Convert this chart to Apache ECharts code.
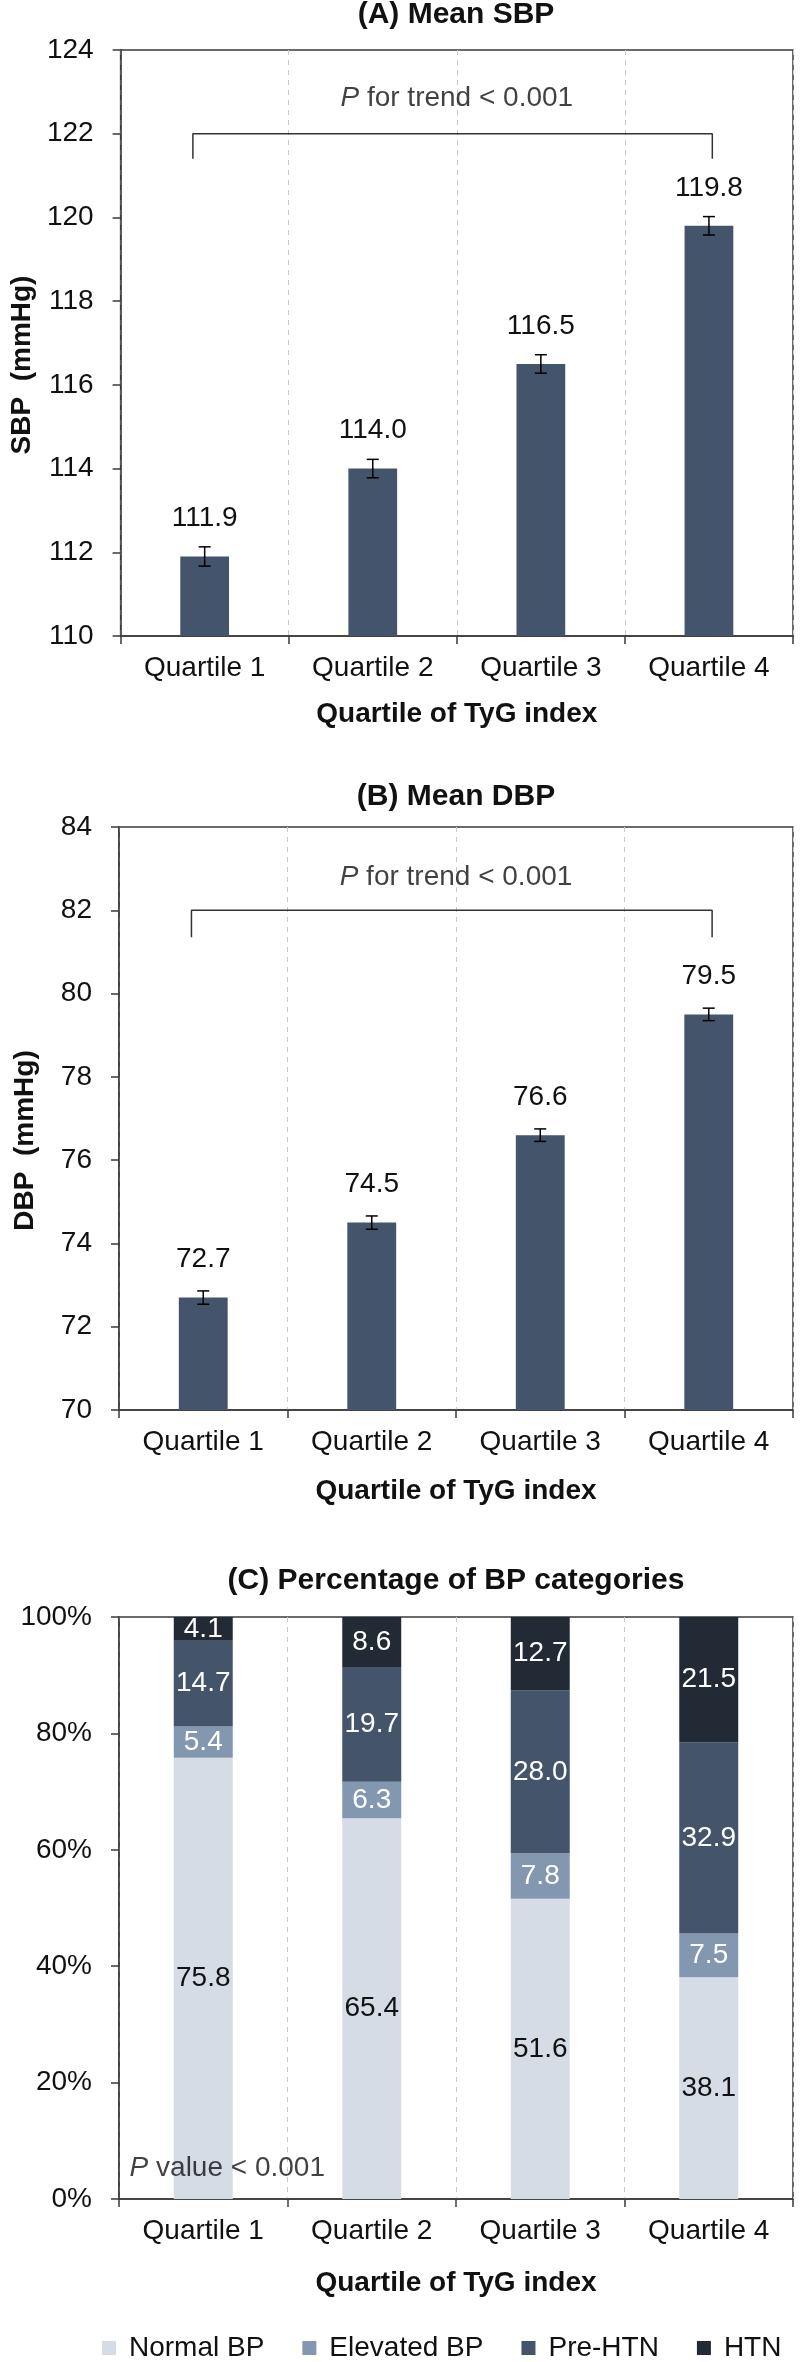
<!DOCTYPE html>
<html><head><meta charset="utf-8">
<script src="https://cdn.jsdelivr.net/npm/echarts@6/dist/echarts.min.js"></script>
<style>html,body{margin:0;padding:0;background:#fff}#c{width:800px;height:2362px}</style>
</head><body><div id="c"></div>
<script>
// ---------- data ----------
const categories = ['Quartile 1', 'Quartile 2', 'Quartile 3', 'Quartile 4'];
const sbpMean = [111.9, 114.0, 116.5, 119.8];
const sbpErr = [0.23, 0.22, 0.22, 0.22];
const dbpMean = [72.7, 74.5, 76.6, 79.5];
const dbpErr = [0.16, 0.16, 0.15, 0.15];
const normalBP = [75.8, 65.4, 51.6, 38.1];
const elevatedBP = [5.4, 6.3, 7.8, 7.5];
const preHTN = [14.7, 19.7, 28.0, 32.9];
const htn = [4.1, 8.6, 12.7, 21.5];
const sbpAxis = { min: 110, max: 124, interval: 2 };
const dbpAxis = { min: 70, max: 84, interval: 2 };
const pctAxis = { min: 0, max: 100, interval: 20 };
const titles = ['(A) Mean SBP', '(B) Mean DBP', '(C) Percentage of BP categories'];
const seriesNames = ['Normal BP', 'Elevated BP', 'Pre-HTN', 'HTN'];
const trendText = 'for trend < 0.001';
const pValueText = 'value < 0.001';
// bracket: x ends (category index units), top level and drop level
const bracketX = [-0.07, 3.02];
const sbpBracket = { top: 122, drop: 121.4, text: 122.85 };
const dbpBracket = { top: 82, drop: 81.35, text: 82.8 };
const pValuePos = [-0.44, 5.3];

// ---------- style ----------
const FONT = 'Liberation Sans, Arial, sans-serif';
const TXT = '#111';
const AX = '#3a3a3a';
const BAR = '#44546a';
const COLORS = ['#d6dce5', '#8497b0', '#44546a', '#222a35'];
const FS = 28;
const L = 119, R = 7;
const grids = [
  { left: L, right: R, top: 50, height: 586 },
  { left: L, right: R, top: 827, height: 583 },
  { left: L, right: R, top: 1617, height: 582 }
];
const PLOT_CX = L + (800 - L - R) / 2;

function catAxis(gi, nameGap) {
  return {
    type: 'category', gridIndex: gi, data: categories, boundaryGap: true,
    axisLine: { show: true, onZero: false, lineStyle: { color: AX, width: 1.5 } },
    axisTick: { show: true, length: 8, inside: false, alignWithLabel: false, lineStyle: { color: AX, width: 1.5 } },
    axisLabel: { fontSize: FS, color: TXT, fontFamily: FONT, margin: 18, interval: 0 },
    splitLine: { show: true, interval: 0, lineStyle: { color: '#c8c8c8', type: [5, 5], width: 1 } },
    name: 'Quartile of TyG index', nameLocation: 'middle', nameGap: nameGap,
    nameTextStyle: { fontSize: FS, fontWeight: 'bold', color: TXT, fontFamily: FONT }
  };
}
function hiddenX(gi) {
  return { type: 'value', gridIndex: gi, min: -0.5, max: 3.5, show: false };
}
function valAxis(gi, ax, name, fmt) {
  return {
    type: 'value', gridIndex: gi, min: ax.min, max: ax.max, interval: ax.interval,
    axisLine: { show: true, onZero: false, lineStyle: { color: AX, width: 1.5 } },
    axisTick: { show: true, length: 8, inside: false, lineStyle: { color: AX, width: 1.5 } },
    axisLabel: { fontSize: FS, color: TXT, fontFamily: FONT, margin: 27, formatter: fmt || '{value}' },
    splitLine: { show: false },
    name: name || '', nameLocation: 'middle', nameGap: 80,
    nameTextStyle: { fontSize: FS, fontWeight: 'bold', color: TXT, fontFamily: FONT, padding: [0, 44, 0, 0] }
  };
}
function errSeries(xi, yi, means, errs) {
  return {
    type: 'custom', xAxisIndex: xi, yAxisIndex: yi, silent: true, z: 5,
    data: means.map((m, i) => [i, m, errs[i]]),
    renderItem: function (params, api) {
      const i = api.value(0), m = api.value(1), e = api.value(2);
      const hi = api.coord([i, m + e]);
      const lo = api.coord([i, m - e]);
      const w = 6;
      const st = { stroke: '#000', lineWidth: 1.5 };
      return { type: 'group', children: [
        { type: 'line', shape: { x1: hi[0], y1: hi[1], x2: lo[0], y2: lo[1] }, style: st },
        { type: 'line', shape: { x1: hi[0] - w, y1: hi[1], x2: hi[0] + w, y2: hi[1] }, style: st },
        { type: 'line', shape: { x1: lo[0] - w, y1: lo[1], x2: lo[0] + w, y2: lo[1] }, style: st }
      ]};
    }
  };
}
function meanBar(xi, yi, means) {
  return {
    type: 'bar', xAxisIndex: xi, yAxisIndex: yi, data: means, barWidth: '29%',
    itemStyle: { color: BAR }, silent: true,
    label: { show: true, position: 'top', distance: 24, fontSize: FS, color: TXT, fontFamily: FONT,
      formatter: p => p.value.toFixed(1) }
  };
}
function bracket(xi, yi, b) {
  return {
    type: 'line', xAxisIndex: xi, yAxisIndex: yi, silent: true, symbol: 'none', z: 4,
    lineStyle: { color: '#333', width: 1.5 },
    data: [[bracketX[0], b.drop], [bracketX[0], b.top], [bracketX[1], b.top], [bracketX[1], b.drop]]
  };
}
function noteText(xi, yi, pos, txt, align) {
  return {
    type: 'scatter', xAxisIndex: xi, yAxisIndex: yi, silent: true, symbolSize: 1,
    itemStyle: { color: 'rgba(0,0,0,0)' },
    data: [pos],
    label: { show: true, position: align === 'left' ? 'right' : 'inside', distance: 0,
      formatter: '{i|P} ' + txt, fontSize: FS, color: TXT, fontFamily: FONT,
      rich: { i: { fontStyle: 'italic', fontSize: FS, color: TXT, fontFamily: FONT } } }
  };
}
function stackBar(idx, data) {
  return {
    name: seriesNames[idx], type: 'bar', stack: 'bp', xAxisIndex: 4, yAxisIndex: 2,
    data: data, barWidth: '35%', itemStyle: { color: COLORS[idx] }, silent: true,
    label: { show: true, position: 'inside', fontSize: FS, fontFamily: FONT,
      color: idx === 0 ? TXT : '#fff', formatter: p => p.value.toFixed(1) }
  };
}

const titleTops = [0, 782, 1566];
const option = {
  animation: false,
  backgroundColor: '#fff',
  textStyle: { fontFamily: FONT },
  title: titles.map((t, i) => ({
    text: t, left: PLOT_CX, top: titleTops[i], textAlign: 'center', padding: 0,
    textStyle: { fontSize: 30, fontWeight: 'bold', color: TXT, fontFamily: FONT }
  })),
  grid: grids.map(g => Object.assign({ show: true, borderColor: AX, borderWidth: 1.5, backgroundColor: 'transparent' }, g)),
  xAxis: [catAxis(0, 64), hiddenX(0), catAxis(1, 67), hiddenX(1), catAxis(2, 70), hiddenX(2)],
  yAxis: [
    valAxis(0, sbpAxis, 'SBP  (mmHg)'),
    valAxis(1, dbpAxis, 'DBP  (mmHg)'),
    valAxis(2, pctAxis, '', '{value}%')
  ],
  legend: {
    data: seriesNames, bottom: 2362 - 2348 - 14, left: 102, icon: 'rect', itemWidth: 14, itemHeight: 14,
    itemGap: 38, padding: 0,
    textStyle: { fontSize: FS, color: TXT, fontFamily: FONT, padding: [0, 0, 0, 8] }
  },
  series: [
    meanBar(0, 0, sbpMean), errSeries(0, 0, sbpMean, sbpErr),
    bracket(1, 0, sbpBracket), noteText(1, 0, [1.5, sbpBracket.text], trendText),
    meanBar(2, 1, dbpMean), errSeries(2, 1, dbpMean, dbpErr),
    bracket(3, 1, dbpBracket), noteText(3, 1, [1.5, dbpBracket.text], trendText),
    stackBar(0, normalBP), stackBar(1, elevatedBP), stackBar(2, preHTN), stackBar(3, htn),
    noteText(5, 2, pValuePos, pValueText, 'left')
  ]
};
const chart = echarts.init(document.getElementById('c'), null, { renderer: 'canvas' });
chart.setOption(option);
</script>
</body></html>
